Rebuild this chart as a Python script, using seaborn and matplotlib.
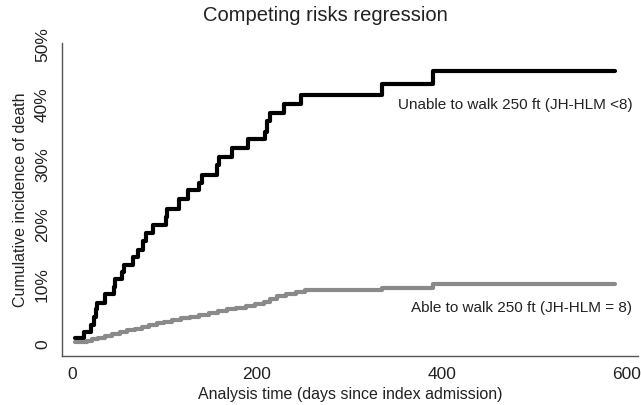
import numpy as np
import pandas as pd
import matplotlib
matplotlib.use('Agg')
import matplotlib.pyplot as plt
import seaborn as sns

# Step-function data (days, cumulative incidence in %)
unable_days = [3, 13, 21, 24, 26, 27.5, 35.7, 45.4, 47, 54.8, 56, 66.3, 71.7, 77, 80,
               88, 101.6, 103, 116, 125.8, 138, 141, 157, 159, 173.7, 190.6, 208.6,
               211, 214, 230, 248, 335, 391, 587]
unable_inc = [1.0, 2.1, 3.2, 4.6, 5.8, 6.8, 8.4, 9.6, 10.8, 12.0, 13.3, 14.6, 15.8, 17.2, 18.6,
              19.9, 21.3, 22.5, 24.2, 25.7, 26.9, 28.3, 29.9, 31.2, 32.7, 34.2, 35.5,
              37.2, 38.6, 40.1, 41.7, 43.5, 45.7, 45.7]

able_days = [3, 16, 22, 28, 36, 44, 52, 60, 68, 76, 84, 92, 100, 108, 118, 128, 138,
             148, 158, 168, 178, 188, 198, 208, 214, 222, 232, 242, 252, 335, 391, 587]
able_inc = [0.3, 0.5, 0.8, 1.1, 1.4, 1.7, 2.0, 2.3, 2.6, 2.9, 3.2, 3.5, 3.7, 4.0, 4.3,
            4.6, 4.9, 5.2, 5.5, 5.8, 6.1, 6.4, 6.7, 7.0, 7.6, 8.0, 8.4, 8.7, 9.0, 9.4,
            10.1, 10.1]

groups = ['Unable to walk 250 ft (JH-HLM <8)', 'Able to walk 250 ft (JH-HLM = 8)']
colors = ['#000000', '#8a8a8a']

df = pd.concat([
    pd.DataFrame({'day': unable_days, 'inc': np.array(unable_inc) / 100, 'group': groups[0]}),
    pd.DataFrame({'day': able_days, 'inc': np.array(able_inc) / 100, 'group': groups[1]}),
])

sns.set_style('white')
plt.rcParams['font.family'] = ['Liberation Sans', 'DejaVu Sans']

fig = plt.figure(figsize=(6.41, 4.05), dpi=100)
ax = fig.add_axes([0.0975, 0.122, 0.8975, 0.772])

sns.lineplot(data=df, x='day', y='inc', hue='group', palette=dict(zip(groups, colors)),
             estimator=None, sort=False, drawstyle='steps-post', linewidth=3,
             legend=False, ax=ax)

ax.set_xlim(-10, 612)
ax.set_ylim(-0.0192, 0.5033)
ax.set_xticks([0, 200, 400, 600])
ax.set_yticks([0, 0.1, 0.2, 0.3, 0.4, 0.5])
ax.set_yticklabels(['0', '10%', '20%', '30%', '40%', '50%'], rotation=90, va='center')
ax.tick_params(axis='both', direction='out', length=5, width=1, color='#555555',
               labelsize=12.5, labelcolor='#222222')
ax.tick_params(axis='y', pad=4)

for s in ['top', 'right']:
    ax.spines[s].set_visible(False)
for s in ['left', 'bottom']:
    ax.spines[s].set_color('#555555')
    ax.spines[s].set_linewidth(1)

ax.set_xlabel('Analysis time (days since index admission)', fontsize=11.5, color='#222222', labelpad=3)
ax.set_ylabel('Cumulative incidence of death', fontsize=11.5, color='#222222', labelpad=5)
fig.suptitle('Competing risks regression', fontsize=14.5, color='#222222', x=0.507, y=0.985)

ax.text(606, 0.40, groups[0], fontsize=11, ha='right', va='center', color='#222222')
ax.text(606, 0.06, groups[1], fontsize=11, ha='right', va='center', color='#222222')

fig.savefig('out.png', dpi=100)
